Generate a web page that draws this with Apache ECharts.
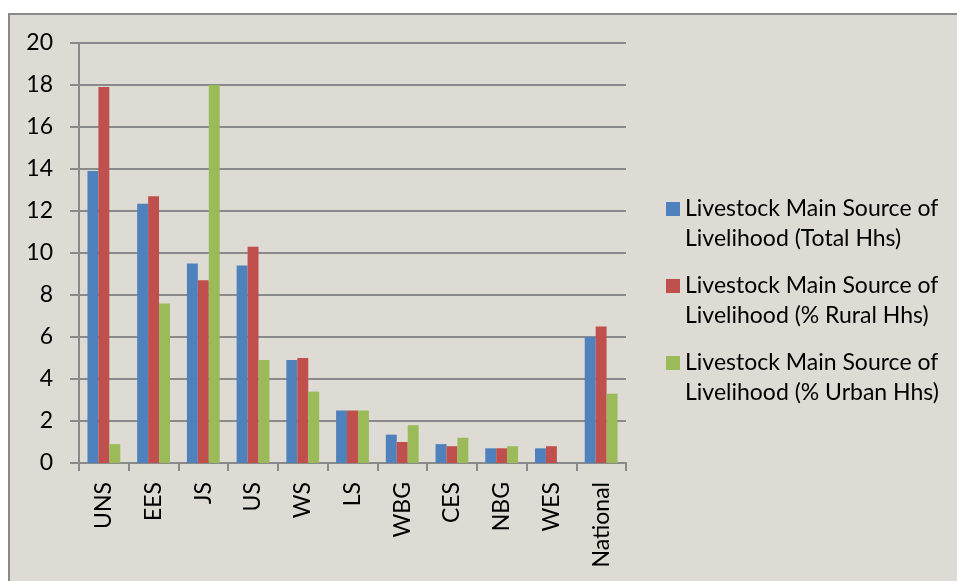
<!DOCTYPE html>
<html>
<head>
<meta charset="utf-8">
<script src="https://cdn.jsdelivr.net/npm/echarts@6/dist/echarts.min.js"></script>
<style>
  html, body { margin: 0; padding: 0; background: #ffffff; }
  #frame {
    position: absolute; left: 8px; top: 13px; width: 960px; height: 600px;
    background: #dedbd4; border: 2px solid #8a8a8a; box-sizing: border-box;
  }
  #chart { position: absolute; left: 0; top: 0; width: 957px; height: 581px; }
</style>
</head>
<body>
<div id="frame"></div>
<div id="chart"></div>
<script>
// Regions and the share of households relying on livestock
const categories = ['UNS', 'EES', 'JS', 'US', 'WS', 'LS', 'WBG', 'CES', 'NBG', 'WES', 'National'];
const totalHhs = [13.9, 12.35, 9.5, 9.4, 4.9, 2.5, 1.35, 0.9, 0.7, 0.7, 6.0];
const ruralHhs = [17.9, 12.7, 8.7, 10.3, 5.0, 2.5, 1.0, 0.8, 0.7, 0.8, 6.5];
const urbanHhs = [0.9, 7.6, 18.0, 4.9, 3.4, 2.5, 1.8, 1.2, 0.8, 0, 3.3];
const yTicks = { min: 0, max: 20, interval: 2 };

const seriesNames = [
  'Livestock Main Source of\nLivelihood (Total Hhs)',
  'Livestock Main Source of\nLivelihood (% Rural Hhs)',
  'Livestock Main Source of\nLivelihood (% Urban Hhs)'
];
const colors = ['#4f81bd', '#c0504d', '#9bbb59'];
const values = [totalHhs, ruralHhs, urbanHhs];

const FONT = 'Lato, "Open Sans", sans-serif';
const GRID_GRAY = '#8a8a8a';

const chart = echarts.init(document.getElementById('chart'), null, { renderer: 'canvas' });

// One legend block per series; a blank leading line keeps the icon
// level with the first line of its two-line label
const legendTops = [164, 241, 318];
const legends = seriesNames.map((name, i) => ({
  show: true,
  left: 666,
  top: legendTops[i],
  padding: 0,
  orient: 'vertical',
  itemWidth: 14,
  itemHeight: 14,
  icon: 'rect',
  selectedMode: false,
  data: [{ name: name }],
  formatter: (n) => ' \n' + n,
  textStyle: {
    fontFamily: FONT,
    fontSize: 23,
    lineHeight: 30,
    color: '#000'
  }
}));

chart.setOption({
  backgroundColor: 'transparent',
  animation: false,
  color: colors,
  legend: legends,
  grid: { left: 79, right: 331, top: 43, bottom: 118, containLabel: false },
  xAxis: {
    type: 'category',
    data: categories,
    boundaryGap: true,
    axisLine: { show: true, lineStyle: { color: GRID_GRAY, width: 2 } },
    axisTick: { show: true, length: 8, interval: 0, lineStyle: { color: GRID_GRAY, width: 2 } },
    axisLabel: {
      interval: 0,
      rotate: 90,
      margin: 19,
      fontFamily: FONT,
      fontSize: 23,
      color: '#000'
    }
  },
  yAxis: {
    type: 'value',
    min: yTicks.min,
    max: yTicks.max,
    interval: yTicks.interval,
    axisLine: { show: true, lineStyle: { color: GRID_GRAY, width: 2 } },
    axisTick: { show: true, length: 9, lineStyle: { color: GRID_GRAY, width: 2 } },
    splitLine: { show: true, lineStyle: { color: GRID_GRAY, width: 2 } },
    axisLabel: {
      margin: 26,
      fontFamily: FONT,
      fontSize: 23,
      color: '#000'
    }
  },
  series: seriesNames.map((name, i) => ({
    name: name,
    type: 'bar',
    data: values[i],
    barGap: '0%',
    barCategoryGap: '34%',
    itemStyle: { color: colors[i] }
  }))
});
</script>
</body>
</html>
